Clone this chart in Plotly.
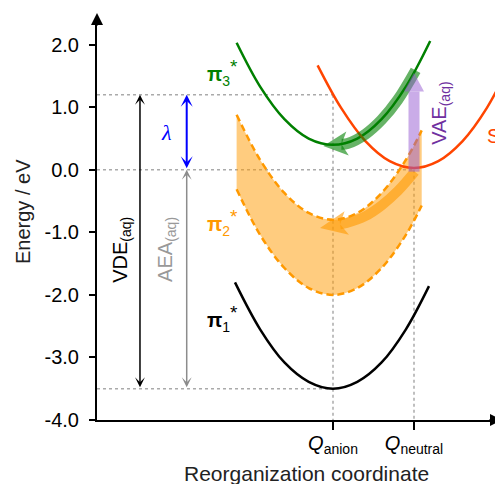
import math
import plotly.graph_objects as go

# ---------------- data ----------------
# reorganization coordinate: Q_anion = 0, Q_neutral = 1
tick_vals = [0.0, 1.0]
tick_text = ["<i>Q</i><sub>anion</sub>", "<i>Q</i><sub>neutral</sub>"]
y_tick_vals = [2.0, 1.0, 0.0, -1.0, -2.0, -3.0, -4.0]
y_tick_text = ["2.0", "1.0", "0.0", "-1.0", "-2.0", "-3.0", "-4.0"]

pi1_q = [-1.21, -0.9, -0.6, -0.3, 0.0, 0.3, 0.6, 0.9, 1.185]
pi1_E = [-1.80, -2.55, -3.08, -3.39, -3.50, -3.39, -3.08, -2.55, -1.86]

pi3_q = [-1.19, -0.9, -0.6, -0.3, 0.0, 0.3, 0.6, 0.9, 1.2]
pi3_E = [2.03, 1.33, 0.81, 0.50, 0.40, 0.50, 0.81, 1.33, 2.06]

s0_q = [-0.19, 0.1, 0.4, 0.7, 1.0, 1.3, 1.6, 1.9, 2.2]
s0_E = [1.67, 0.99, 0.46, 0.14, 0.03, 0.14, 0.46, 0.99, 1.73]

pi2_q = [-1.19, -0.9, -0.6, -0.3, 0.0, 0.3, 0.6, 0.9, 1.095]
pi2_upper = [0.88, 0.16, -0.37, -0.69, -0.80, -0.69, -0.37, 0.16, 0.63]
pi2_lower = [-0.31, -1.04, -1.57, -1.89, -2.00, -1.89, -1.57, -1.04, -0.57]

# thick relaxation / excitation arrows: body path + tip
orange_arrow_q = [1.01, 0.8, 0.6, 0.4, 0.17]
orange_arrow_E = [-0.03, -0.34, -0.57, -0.74, -0.85]
orange_arrow_tip = (-0.16, -0.93)

green_arrow_q = [1.02, 0.8, 0.6, 0.4, 0.18]
green_arrow_E = [1.59, 1.12, 0.80, 0.57, 0.42]
green_arrow_tip = (-0.12, 0.38)

purple_arrow_q = [1.0, 1.0]
purple_arrow_E = [-0.03, 1.25]
purple_arrow_tip = (1.0, 1.55)

# energy levels
VDE_top, AEA_top, min_anion = 1.2, 0.0, -3.5
x_vde, x_aea = -2.383, -1.806

# ---------------- layout geometry ----------------
OFF = 8                      # page offset of the figure (body margin)
W, H = 503 - OFF, 484 - OFF
ML, MR, MT, MB = 97 - OFF, 0, 25 - OFF, 64
PW, PH = W - ML - MR, H - MT - MB
PXQ, PYE = 81.0, 62.55
x_range = [-236 / PXQ, -236 / PXQ + PW / PXQ]
y_range = [-4.0, -4.0 + PH / PYE]

FONT = "Liberation Sans, Arial, sans-serif"
STAR = "<sup><span style='font-size:19px'>*</span></sup>"

fig = go.Figure()

def line(xs, ys, color, width, dash=None, shape="spline", **kw):
    fig.add_trace(go.Scatter(x=xs, y=ys, mode="lines", hoverinfo="skip",
                             line=dict(color=color, width=width, dash=dash, shape=shape),
                             showlegend=False, **kw))

# dotted guide lines
dot_c = "#aaaaaa"
line([x_range[0], 0.0], [VDE_top, VDE_top], dot_c, 1.5, "dot", "linear")
line([x_range[0], 1.0], [AEA_top, AEA_top], dot_c, 1.5, "dot", "linear")
line([x_range[0], 0.0], [min_anion, min_anion], dot_c, 1.5, "dot", "linear")
line([0.0, 0.0], [VDE_top, y_range[0]], dot_c, 1.5, "dot", "linear")
line([1.0, 1.0], [AEA_top, y_range[0]], dot_c, 1.5, "dot", "linear")

# pi2* band
line(pi2_q, pi2_lower, "rgba(0,0,0,0)", 0)
fig.add_trace(go.Scatter(x=pi2_q, y=pi2_upper, mode="lines", fill="tonexty",
                         fillcolor="rgba(255,153,0,0.5)", hoverinfo="skip", showlegend=False,
                         line=dict(color="rgba(0,0,0,0)", width=0, shape="spline")))
line(pi2_q, pi2_upper, "#FF9900", 2.5, "7px,4px")
line(pi2_q, pi2_lower, "#FF9900", 2.5, "7px,4px")

# potential curves
line(pi1_q, pi1_E, "#000000", 2.5)
line(pi3_q, pi3_E, "#008000", 2.5)
line(s0_q, s0_E, "#FF4500", 2.5)

# thick arrows
def thick_arrow(qs, Es, tip, color, width, hw, notch):
    bx, by = qs[-1] * PXQ, Es[-1] * PYE
    tx, ty = tip[0] * PXQ, tip[1] * PYE
    dx, dy = tx - bx, ty - by
    L = math.hypot(dx, dy)
    ux, uy = dx / L, dy / L
    nx, ny = -uy, ux
    w1 = (bx + nx * hw, by + ny * hw)
    w2 = (bx - nx * hw, by - ny * hw)
    nt = (bx + ux * L * notch, by + uy * L * notch)
    pts = [(tx, ty), w1, nt, w2, (tx, ty)]
    line(list(qs) + [nt[0] / PXQ], list(Es) + [nt[1] / PYE], color, width)
    fig.add_trace(go.Scatter(x=[p[0] / PXQ for p in pts], y=[p[1] / PYE for p in pts],
                             mode="lines", fill="toself", fillcolor=color,
                             line=dict(width=0, color="rgba(0,0,0,0)"),
                             hoverinfo="skip", showlegend=False))

thick_arrow(orange_arrow_q, orange_arrow_E, orange_arrow_tip, "rgba(255,153,0,0.6)", 10, 12, 0.25)
thick_arrow(green_arrow_q, green_arrow_E, green_arrow_tip, "rgba(0,128,0,0.6)", 11, 12, 0.25)
thick_arrow(purple_arrow_q, purple_arrow_E, purple_arrow_tip, "rgba(150,90,210,0.5)", 11, 10, 0.0)

# ---------------- annotations ----------------
ann = []

def darrow(x, y0, y1, color, width, size):
    ann.append(dict(x=x, y=y0, ax=x, ay=y1, xref="x", yref="y", axref="x", ayref="y",
                    text="", showarrow=True, arrowside="end+start",
                    arrowhead=3, startarrowhead=3, arrowsize=size, startarrowsize=size,
                    arrowwidth=width, arrowcolor=color, standoff=0, startstandoff=0))

darrow(x_vde, VDE_top, min_anion, "#000000", 1.5, 1.1)
darrow(x_aea, AEA_top, min_anion, "#8c8c8c", 1.5, 1.1)
darrow(x_aea, VDE_top, AEA_top, "#0000FF", 2, 1.0)

def text(x, y, s, color, size=20, angle=0, xanchor="center", family=FONT):
    ann.append(dict(x=x, y=y, xref="x", yref="y", text=s, showarrow=False,
                    textangle=angle, xanchor=xanchor, yanchor="middle",
                    font=dict(family=family, size=size, color=color)))

text(-2.605, -1.28, "VDE<sub>(aq)</sub>", "#000000", 20, -90)
text(-2.049, -1.28, "AEA<sub>(aq)</sub>", "#999999", 20, -90)
text(-2.06, 0.59, "<i>λ</i>", "#0000FF", 22, family="Liberation Serif, serif")
text(-1.36, 1.55, "<b>π</b><sub>3</sub>" + STAR, "#008000", 20)
text(-1.37, -0.85, "<b>π</b><sub>2</sub>" + STAR, "#FF9900", 20)
text(-1.37, -2.37, "<b>π</b><sub>1</sub>" + STAR, "#000000", 20)
text(1.333, 0.91, "VAE<sub>(aq)</sub>", "#7030A0", 20, -90)
text(1.877, 0.51, "S<sub>0</sub>", "#FF4500", 20, xanchor="left")

# page pixel -> paper coordinates
def px_x(p):
    return (p - OFF - ML) / PW

def px_y(p):
    return (H - MB - (p - OFF)) / PH

# axis titles
ann.append(dict(x=px_x(23), y=px_y(212), xref="paper", yref="paper", text="Energy / eV",
                textangle=-90, showarrow=False, xanchor="center", yanchor="middle",
                font=dict(family=FONT, size=20, color="#222222")))
ann.append(dict(x=px_x(306), y=px_y(473), xref="paper", yref="paper",
                text="Reorganization coordinate", showarrow=False,
                xanchor="center", yanchor="middle",
                font=dict(family=FONT, size=21, color="#222222")))

# axis arrowheads
ann.append(dict(x=0, y=px_y(13), xref="paper", yref="paper", ax=0, ay=14, text="",
                showarrow=True, arrowhead=2, arrowwidth=2, arrowsize=1.2, arrowcolor="#000000",
                standoff=0))
ann.append(dict(x=px_x(502), y=0, xref="paper", yref="paper", ax=-14, ay=0, text="",
                showarrow=True, arrowhead=2, arrowwidth=2, arrowsize=1.2, arrowcolor="#000000",
                standoff=0))

fig.update_layout(
    width=W, height=H, margin=dict(l=ML, r=MR, t=MT, b=MB),
    paper_bgcolor="white", plot_bgcolor="white",
    annotations=ann, showlegend=False,
    font=dict(family=FONT, size=20, color="#000000"),
)
fig.update_xaxes(range=x_range, showgrid=False, zeroline=False, showline=True,
                 linecolor="#000000", linewidth=2, ticks="outside", ticklen=8,
                 tickwidth=1.5, tickcolor="#000000", tickvals=tick_vals, ticktext=tick_text,
                 ticklabelstandoff=-4,
                 tickfont=dict(family=FONT, size=20, color="#000000"))
fig.update_yaxes(range=y_range, showgrid=False, zeroline=False, showline=True,
                 linecolor="#000000", linewidth=2, ticks="outside", ticklen=6,
                 tickwidth=1.5, tickcolor="#000000", tickvals=y_tick_vals, ticktext=y_tick_text,
                 ticklabelstandoff=6,
                 tickfont=dict(family=FONT, size=20, color="#000000"))

fig.write_html("out.html")
